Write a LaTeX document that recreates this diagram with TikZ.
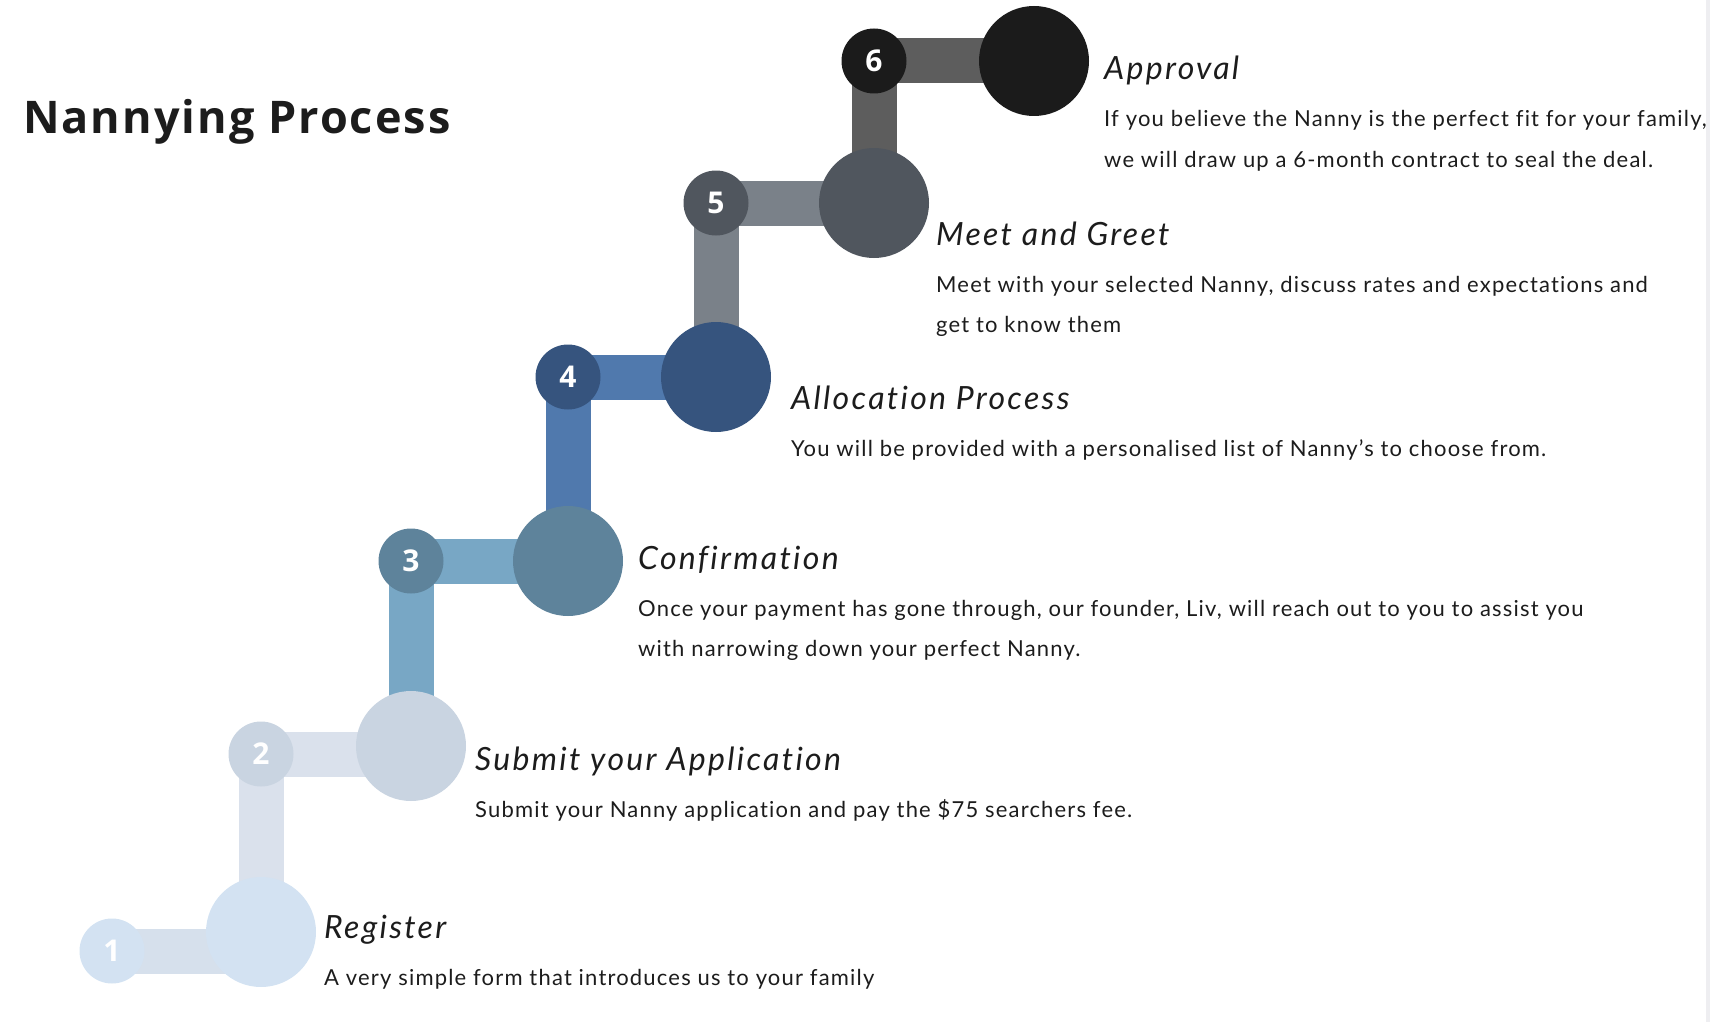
\documentclass[tikz,border=0pt]{standalone}
\usepackage{fontspec}
\setmainfont{Lato}
\newfontfamily\titlefont[LetterSpace=4.5]{Open Sans}
\newfontfamily\numfont{Open Sans}
\newfontfamily\bodyfont[LetterSpace=5.4,Ligatures={NoCommon,NoRare}]{Lato}
\newfontfamily\headfont[LetterSpace=7.2,Ligatures={NoCommon,NoRare}]{Lato}
\usepackage{xcolor}
\usepackage{tikz}
\usetikzlibrary{positioning}

\definecolor{circA}{HTML}{D3E2F2}
\definecolor{barA}{HTML}{D6E0EC}
\definecolor{circB}{HTML}{C9D4E1}
\definecolor{barB}{HTML}{DAE1EC}
\definecolor{circC}{HTML}{5E839B}
\definecolor{barC}{HTML}{78A7C5}
\definecolor{circD}{HTML}{36547E}
\definecolor{barD}{HTML}{5079AD}
\definecolor{circE}{HTML}{50565E}
\definecolor{barE}{HTML}{7A8189}
\definecolor{circF}{HTML}{1B1B1B}
\definecolor{barF}{HTML}{5D5D5D}
\definecolor{inkdark}{HTML}{1C1C1C}
\definecolor{edgegray}{HTML}{EEEEF1}

\begin{document}
\begin{tikzpicture}[x=1pt,y=-1pt,
    numdot/.style={circle,inner sep=0pt,minimum size=65pt,text=white,
        font=\numfont\fontsize{30}{30}\selectfont\bfseries},
    bigdot/.style={circle,inner sep=0pt,minimum size=110pt},
    bar/.style={line width=45pt},
    heading/.style={anchor=base west,inner sep=0pt,text=inkdark,
        font=\headfont\fontsize{32}{36}\selectfont\itshape},
    bodytext/.style={anchor=base west,inner sep=0pt,text=inkdark,align=left,
        font=\bodyfont\fontsize{22}{40}\selectfont}]

\useasboundingbox (0,0) rectangle (1710,1022);
\fill[edgegray] (1706,0) rectangle (1710,1022);

% step circles
\coordinate (s1) at (112,951);
\coordinate (s2) at (261,754);
\coordinate (s3) at (411,561);
\coordinate (s4) at (568,377);
\coordinate (s5) at (716,203);
\coordinate (s6) at (874,61);
\coordinate (b1) at (261,932);
\coordinate (b2) at (411,746);
\coordinate (b3) at (568,561);
\coordinate (b4) at (716,377);
\coordinate (b5) at (874,203);
\coordinate (b6) at (1034,61);

% bars behind the circles
\draw[bar,barA] (s1) -- (s1 -| b1);
\draw[bar,barB] (b1) -- (s2) -- (s2 -| b2);
\draw[bar,barC] (b2) -- (s3) -- (s3 -| b3);
\draw[bar,barD] (b3) -- (s4) -- (s4 -| b4);
\draw[bar,barE] (b4) -- (s5) -- (s5 -| b5);
\draw[bar,barF] (b5) -- (s6) -- (s6 -| b6);

\node[bigdot,fill=circA] (B1) at (b1) {};
\node[bigdot,fill=circB] (B2) at (b2) {};
\node[bigdot,fill=circC] (B3) at (b3) {};
\node[bigdot,fill=circD] (B4) at (b4) {};
\node[bigdot,fill=circE] (B5) at (b5) {};
\node[bigdot,fill=circF] (B6) at (b6) {};

\node[numdot,fill=circA] (N1) at (s1) {1};
\node[numdot,fill=circB] (N2) at (s2) {2};
\node[numdot,fill=circC] (N3) at (s3) {3};
\node[numdot,fill=circD] (N4) at (s4) {4};
\node[numdot,fill=circE] (N5) at (s5) {5};
\node[numdot,fill=circF] (N6) at (s6) {6};

% title
\node[anchor=base west,inner sep=0pt,text=inkdark,
    font=\titlefont\fontsize{45}{50}\selectfont\bfseries] (title) at (23,134) {Nannying Process};

% headings and texts (two-line texts sit on their last line)
\node[heading] (H6) at (1104,80) {Approval};
\node[bodytext] (T6) at ([yshift=-87pt]H6.base west)
    {If you believe the Nanny is the perfect fit for your family,\\
     we will draw up a 6-month contract to seal the deal.};

\node[heading] (H5) at (936,245) {Meet and Greet};
\node[bodytext] (T5) at ([yshift=-87pt]H5.base west)
    {Meet with your selected Nanny, discuss rates and expectations and\\
     get to know them};

\node[heading] (H4) at (791,409) {Allocation Process};
\node[bodytext] (T4) at ([yshift=-47pt]H4.base west)
    {You will be provided with a personalised list of Nanny’s to choose from.};

\node[heading] (H3) at (638,569) {Confirmation};
\node[bodytext] (T3) at ([yshift=-87pt]H3.base west)
    {Once your payment has gone through, our founder, Liv, will reach out to you to assist you\\
     with narrowing down your perfect Nanny.};

\node[heading] (H2) at (475,770) {Submit your Application};
\node[bodytext] (T2) at ([yshift=-47pt]H2.base west)
    {Submit your Nanny application and pay the \$75 searchers fee.};

\node[heading] (H1) at (324,938) {Register};
\node[bodytext] (T1) at ([yshift=-47pt]H1.base west)
    {A very simple form that introduces us to your family};

\end{tikzpicture}
\end{document}
